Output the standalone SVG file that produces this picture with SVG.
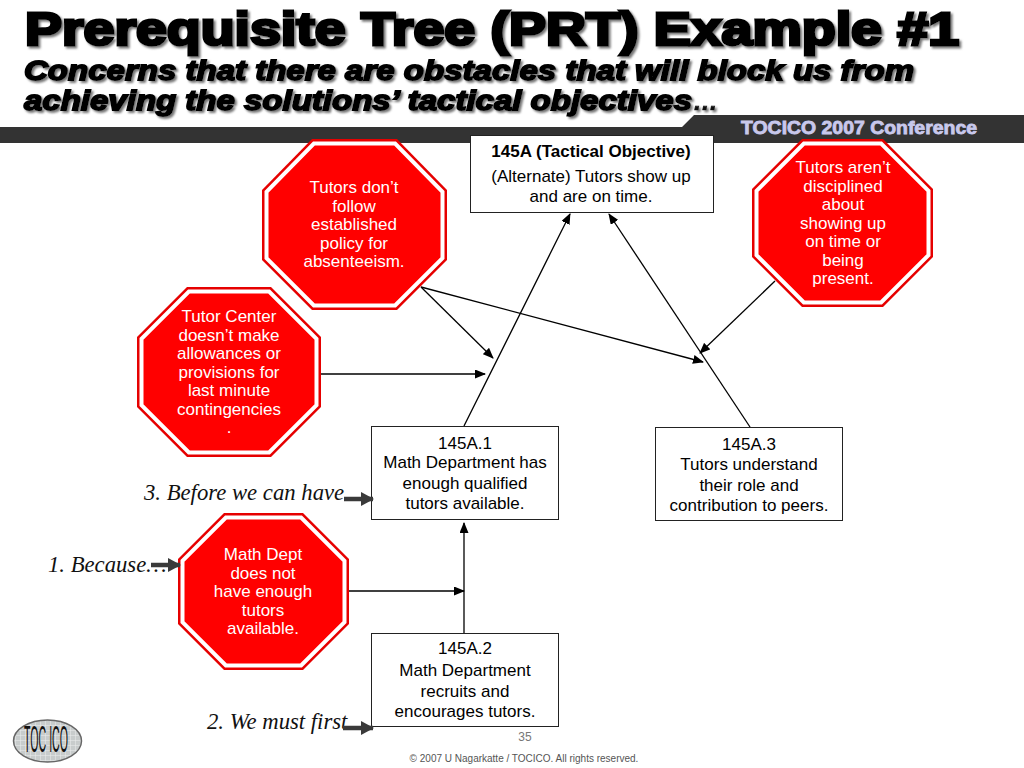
<svg xmlns="http://www.w3.org/2000/svg" width="1024" height="768" viewBox="0 0 1024 768">
<style>
text{font-family:"Liberation Sans",Arial,sans-serif}
.t1,.t2{font-weight:bold;fill:#000;stroke:#000;filter:url(#sh)}
.t1{font-size:46.500px;stroke-width:3px}
.t2{font-size:28.500px;font-style:italic;stroke-width:1.800px}
.o{fill:#e60000}
.i{fill:#f00;stroke:#fff;stroke-width:4}
.w{fill:#fff;font-size:17px;text-anchor:middle}
.b{fill:#fff;stroke:#222;stroke-width:1}
.k{fill:#000;font-size:17px;text-anchor:middle}
.s{font-family:"Liberation Serif","Times New Roman",serif;font-style:italic;font-size:22.700px;fill:#111}
.c line{stroke:#000;stroke-width:1.300;fill:none;marker-end:url(#a)}
.h line{stroke:#3a3a3a;stroke-width:4.500;marker-end:url(#h)}
</style>
<defs>
<filter id="sh" x="-5%" y="-20%" width="110%" height="150%"><feDropShadow dx="2" dy="2" stdDeviation="1" flood-color="#777"/></filter>
<pattern id="lg" width="5" height="5" patternUnits="userSpaceOnUse"><rect width="5" height="5" fill="#c8cccc"/><path d="M0 0H5M0 0V5" stroke="#eceeee" stroke-width="1"/></pattern>
<marker id="a" markerWidth="11" markerHeight="9" refX="10" refY="4.500" orient="auto" markerUnits="userSpaceOnUse"><path d="M0 0L11 4.500L0 9z" fill="#000"/></marker>
<marker id="h" markerWidth="13" markerHeight="14" refX="12" refY="7" orient="auto" markerUnits="userSpaceOnUse"><path d="M0 0L13 7L0 14z" fill="#3a3a3a"/></marker>
</defs>
<rect width="1024" height="768" fill="#fff"/>
<g id="title">
<text class="t1" x="25" y="45" textLength="934" lengthAdjust="spacingAndGlyphs">Prerequisite Tree (PRT) Example #1</text>
<text class="t2" x="24" y="80" textLength="890" lengthAdjust="spacingAndGlyphs">Concerns that there are obstacles that will block us from</text>
<text class="t2" x="24" y="110" textLength="668" lengthAdjust="spacingAndGlyphs">achieving the solutions’ tactical objectives</text>
<text x="693" y="110" font-size="25" font-style="italic" font-weight="bold" fill="#111" stroke="#111" stroke-width=".6" filter="url(#sh)">…</text>
</g>
<g id="band">
<path d="M0 127H682L694 115H1024V143H0z" fill="#333"/>
<text x="741" y="134" font-size="17.500" font-weight="bold" fill="#c8c8ec" stroke="#c8c8ec" stroke-width=".8" textLength="236" lengthAdjust="spacingAndGlyphs">TOCICO 2007 Conference</text>
</g>
<g id="connectors" class="c">
<line x1="464" y1="426" x2="570" y2="214"/>
<line x1="750" y1="427" x2="609" y2="214"/>
<line x1="421" y1="287" x2="493" y2="358"/>
<line x1="421" y1="287" x2="703" y2="362"/>
<line x1="775" y1="281" x2="700" y2="353"/>
<line x1="321" y1="374" x2="485" y2="374"/>
<line x1="464" y1="633" x2="464" y2="523"/>
<line x1="349" y1="591" x2="464" y2="591"/>
</g>
<g id="n1"><polygon class="o" points="312,139 397,139 447,190 447,260 397,310 312,310 262,260 262,190"/><polygon class="i" points="313.900,143.500 395.100,143.500 442.500,191.900 442.500,258.100 395.100,305.500 313.900,305.500 266.500,258.100 266.500,191.900"/>
<text class="w" x="354" y="193">Tutors don’t</text><text class="w" x="354" y="211.500">follow</text><text class="w" x="354" y="230">established</text><text class="w" x="354" y="248.500">policy for</text><text class="w" x="354" y="267">absenteeism.</text></g>
<g id="n2"><polygon class="o" points="187,287 271,287 321,337 321,407 271,457 187,457 137,407 137,337"/><polygon class="i" points="188.900,291.500 269.100,291.500 316.500,338.900 316.500,405.100 269.100,452.500 188.900,452.500 141.500,405.100 141.500,338.900"/>
<text class="w" x="229" y="322">Tutor Center</text><text class="w" x="229" y="340.500">doesn’t make</text><text class="w" x="229" y="359">allowances or</text><text class="w" x="229" y="377.500">provisions for</text><text class="w" x="229" y="396">last minute</text><text class="w" x="229" y="414.500">contingencies</text><text class="w" x="229" y="433">.</text></g>
<g id="n3"><polygon class="o" points="802,139 883,139 933,189 933,257 883,307 802,307 752,257 752,189"/><polygon class="i" points="803.900,143.500 881.100,143.500 928.500,190.900 928.500,255.100 881.100,302.500 803.900,302.500 756.500,255.100 756.500,190.900"/>
<text class="w" x="843" y="173">Tutors aren’t</text><text class="w" x="843" y="191.500">disciplined</text><text class="w" x="843" y="210">about</text><text class="w" x="843" y="228.500">showing up</text><text class="w" x="843" y="247">on time or</text><text class="w" x="843" y="265.500">being</text><text class="w" x="843" y="284">present.</text></g>
<g id="n4"><polygon class="o" points="224,513 303,513 349,559 349,624 303,670 224,670 178,624 178,559"/><polygon class="i" points="225.900,517.500 301.100,517.500 344.500,560.900 344.500,622.100 301.100,665.500 225.900,665.500 182.500,622.100 182.500,560.900"/>
<text class="w" x="263" y="560">Math Dept</text><text class="w" x="263" y="578.500">does not</text><text class="w" x="263" y="597">have enough</text><text class="w" x="263" y="615.500">tutors</text><text class="w" x="263" y="634">available.</text></g>
<g id="n5"><rect class="b" x="470.500" y="135.500" width="243" height="77"/>
<text class="k" x="591" y="157" font-weight="bold">145A (Tactical Objective)</text><text class="k" x="591" y="182">(Alternate) Tutors show up</text><text class="k" x="591" y="202">and are on time.</text></g>
<g id="n6"><rect class="b" x="371.500" y="426.500" width="187" height="93"/>
<text class="k" x="465" y="449">145A.1</text><text class="k" x="465" y="468">Math Department has</text><text class="k" x="465" y="489">enough qualified</text><text class="k" x="465" y="509">tutors available.</text></g>
<g id="n7"><rect class="b" x="655.500" y="427.500" width="187" height="93"/>
<text class="k" x="749" y="450">145A.3</text><text class="k" x="749" y="470">Tutors understand</text><text class="k" x="749" y="491">their role and</text><text class="k" x="749" y="511">contribution to peers.</text></g>
<g id="n8"><rect class="b" x="371.500" y="633.500" width="187" height="93"/>
<text class="k" x="465" y="654">145A.2</text><text class="k" x="465" y="676">Math Department</text><text class="k" x="465" y="697">recruits and</text><text class="k" x="465" y="717">encourages tutors.</text></g>
<g id="steps">
<text class="s" x="144" y="500">3. Before we can have</text>
<text class="s" x="48" y="572">1. Because…</text>
<text class="s" x="207" y="729">2. We must first</text>
</g>
<g class="h">
<line x1="344" y1="499" x2="373" y2="499"/>
<line x1="151" y1="565" x2="180" y2="565"/>
<line x1="343" y1="728" x2="373" y2="728"/>
</g>
<g id="logo">
<ellipse cx="47.500" cy="741" rx="34" ry="21" fill="url(#lg)" stroke="#666" stroke-width="1.500"/>
<text x="46" y="752" font-size="36" font-family="Liberation Serif" text-anchor="middle" fill="#111" textLength="44" lengthAdjust="spacingAndGlyphs">TOC ICO</text>
</g>
<g id="footer">
<text x="525" y="741" font-size="12" text-anchor="middle" fill="#777">35</text>
<text x="524" y="762" font-size="10" text-anchor="middle" fill="#555">© 2007 U Nagarkatte / TOCICO. All rights reserved.</text>
</g>
</svg>
